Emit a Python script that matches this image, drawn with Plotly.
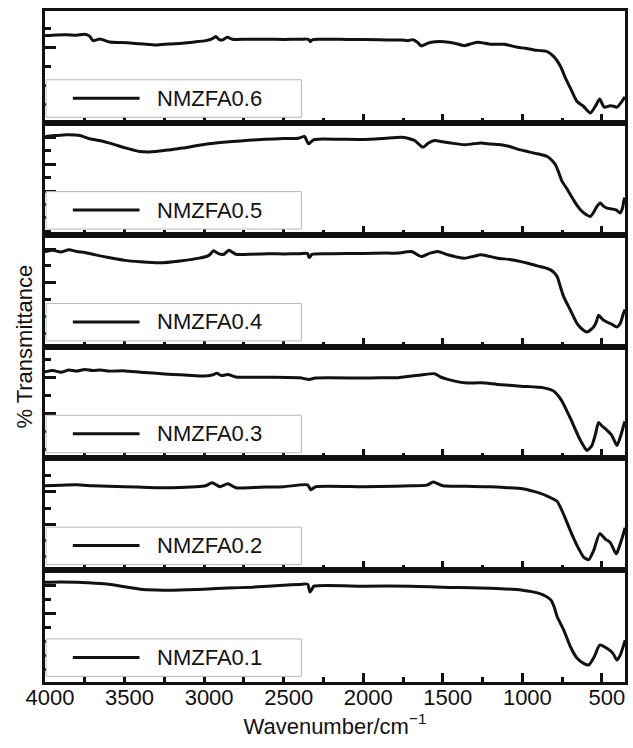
import plotly.graph_objects as go
from plotly.subplots import make_subplots

# Sample names, top panel to bottom panel
samples = ["NMZFA0.6", "NMZFA0.5", "NMZFA0.4", "NMZFA0.3", "NMZFA0.2", "NMZFA0.1"]

# (wavenumber cm^-1, % transmittance)
nmzfa06 = [(4000, 78.5), (3990, 78.0), (3930, 78.6), (3865, 78.8), (3800, 78.3), (3750, 79.2), (3720, 77.5),
           (3698, 73.5), (3656, 75.0), (3594, 72.3), (3520, 71.8), (3448, 71.2), (3380, 70.4), (3302, 69.6),
           (3220, 70.5), (3135, 71.2), (3060, 72.3), (2990, 73.5), (2950, 75.0), (2927, 77.1), (2905, 74.5),
           (2885, 74.1), (2854, 76.5), (2823, 74.7), (2720, 74.8), (2615, 74.7), (2500, 74.6), (2400, 74.7),
           (2344, 74.7), (2333, 72.6), (2320, 74.2), (2281, 74.7), (2100, 74.6), (1900, 74.4), (1760, 74.0),
           (1719, 73.5), (1688, 74.4), (1660, 72.0), (1635, 68.8), (1600, 70.8), (1573, 72.1), (1490, 72.6),
           (1420, 71.0), (1365, 69.0), (1320, 70.8), (1281, 72.1), (1198, 70.3), (1115, 70.3), (1031, 67.6),
           (980, 66.6), (927, 65.2), (880, 64.5), (844, 63.7), (802, 59.2), (760, 50.3), (729, 39.9),
           (698, 31.0), (656, 19.0), (615, 14.6), (573, 8.7), (542, 14.6), (514, 21.2), (486, 14.0),
           (448, 15.2), (420, 14.6), (406, 14.0), (375, 19.0), (361, 22.1), (355, 23.0)]

nmzfa05 = [(4000, 87.5), (3990, 87.8), (3930, 88.6), (3865, 89.3), (3781, 88.7), (3719, 85.7), (3650, 84.0),
           (3594, 81.9), (3540, 79.5), (3490, 77.4), (3440, 75.5), (3406, 74.4), (3350, 74.0), (3302, 74.4),
           (3220, 75.8), (3135, 77.4), (3050, 79.5), (2969, 81.3), (2900, 82.4), (2823, 83.3), (2720, 84.4),
           (2615, 85.4), (2500, 85.9), (2406, 86.3), (2369, 87.8), (2344, 81.3), (2313, 84.8), (2281, 85.4),
           (2150, 85.3), (2010, 85.1), (1880, 86.0), (1760, 87.2), (1720, 86.2), (1677, 84.2), (1625, 78.3),
           (1590, 82.0), (1552, 84.2), (1500, 83.0), (1448, 81.9), (1365, 80.4), (1310, 81.2), (1260, 81.9),
           (1200, 81.0), (1135, 80.4), (1080, 78.8), (1031, 76.5), (980, 74.8), (927, 72.9), (880, 71.5),
           (844, 69.9), (815, 66.5), (792, 62.5), (770, 55.0), (750, 47.6), (720, 41.0), (698, 35.7),
           (665, 28.0), (635, 22.3), (600, 18.0), (573, 16.3), (550, 20.5), (531, 25.3), (510, 28.3),
           (490, 25.5), (469, 23.8), (440, 23.0), (420, 22.5), (406, 21.7), (385, 19.4), (370, 24.0),
           (361, 31.3), (355, 33.0)]

nmzfa04 = [(4000, 84.7), (3950, 86.0), (3900, 84.5), (3850, 86.5), (3800, 85.0), (3750, 84.0), (3700, 82.5),
           (3600, 79.5), (3500, 77.0), (3400, 75.7), (3280, 74.8), (3150, 76.5), (3030, 79.0), (2970, 81.5),
           (2940, 85.6), (2910, 83.0), (2875, 82.5), (2845, 86.0), (2800, 82.5), (2700, 82.5), (2600, 83.0),
           (2500, 82.8), (2400, 83.0), (2350, 83.2), (2340, 79.5), (2320, 82.5), (2200, 83.0), (2000, 83.2),
           (1850, 83.5), (1781, 83.5), (1698, 85.0), (1635, 80.5), (1580, 83.5), (1531, 85.0), (1469, 82.0),
           (1365, 79.0), (1310, 80.5), (1260, 82.0), (1156, 79.0), (1080, 77.8), (1010, 75.9), (960, 74.2),
           (906, 72.1), (860, 70.5), (823, 68.5), (800, 66.0), (781, 62.4), (760, 53.0), (740, 44.4),
           (698, 32.4), (656, 20.5), (620, 15.0), (594, 12.9), (552, 17.4), (535, 22.0), (521, 27.9),
           (495, 24.0), (469, 21.9), (440, 20.0), (406, 17.4), (385, 20.5), (365, 29.5), (355, 33.0)]

nmzfa03 = [(4000, 77.3), (3950, 78.5), (3900, 77.0), (3850, 79.0), (3800, 78.0), (3750, 79.5), (3700, 78.5),
           (3650, 79.0), (3600, 78.0), (3500, 78.2), (3400, 77.0), (3300, 76.0), (3200, 75.0), (3100, 74.3),
           (3000, 73.6), (2950, 74.5), (2920, 76.0), (2890, 74.0), (2850, 75.0), (2800, 72.7), (2600, 72.5),
           (2400, 72.0), (2340, 70.5), (2300, 71.8), (2000, 71.8), (1900, 72.0), (1781, 72.1), (1698, 73.6),
           (1635, 74.5), (1552, 75.7), (1510, 72.5), (1469, 70.6), (1365, 67.5), (1260, 67.5), (1156, 66.1),
           (1010, 64.5), (865, 63.0), (802, 60.0), (775, 56.0), (750, 50.9), (698, 35.7), (646, 19.1),
           (615, 11.0), (594, 7.0), (563, 11.5), (540, 22.0), (521, 32.1), (500, 29.0), (479, 26.6),
           (438, 20.6), (406, 11.5), (381, 20.6), (360, 31.2), (355, 33.0)]

nmzfa02 = [(4000, 75.4), (3900, 76.0), (3800, 76.3), (3700, 75.5), (3600, 75.0), (3500, 74.6), (3350, 74.0),
           (3200, 73.7), (3050, 74.5), (2990, 75.5), (2950, 78.1), (2920, 76.0), (2900, 74.6), (2850, 77.2),
           (2800, 73.7), (2650, 74.2), (2500, 74.6), (2350, 76.3), (2330, 71.9), (2300, 74.6), (2000, 74.6),
           (1800, 75.0), (1700, 75.4), (1600, 76.0), (1560, 78.9), (1500, 75.4), (1350, 75.0), (1200, 74.6),
           (1100, 73.8), (1000, 72.8), (950, 71.3), (900, 69.3), (840, 66.0), (781, 61.4), (740, 49.7),
           (698, 35.1), (656, 21.9), (615, 11.7), (583, 9.4), (552, 17.5), (514, 32.7), (479, 27.8),
           (448, 24.8), (410, 14.6), (396, 19.0), (375, 27.8), (354, 38.0)]

nmzfa01 = [(4000, 89.3), (3900, 89.5), (3800, 89.3), (3700, 88.5), (3600, 87.5), (3500, 85.2), (3400, 83.0),
           (3300, 82.3), (3200, 82.1), (3100, 82.5), (3000, 83.0), (2850, 84.0), (2700, 84.8), (2500, 86.6),
           (2400, 87.2), (2350, 87.5), (2335, 80.4), (2320, 83.5), (2310, 85.7), (2000, 85.7), (1700, 85.7),
           (1500, 84.8), (1200, 83.9), (1000, 82.1), (900, 79.5), (850, 76.5), (820, 73.2), (800, 67.0),
           (781, 58.3), (740, 46.4), (698, 31.5), (656, 21.2), (615, 16.7), (583, 15.2), (548, 22.6),
           (514, 33.0), (469, 30.1), (431, 25.6), (406, 19.6), (385, 24.1), (354, 37.5)]

spectra = [nmzfa06, nmzfa05, nmzfa04, nmzfa03, nmzfa02, nmzfa01]

# y tick spacing per panel (major dtick, major tick0, minor dtick)
ytick_major = [34, 24, 30, 32, 29, 25]
ytick_start = [33, 15, 27, 8, 12, 11]
ytick_minor = [17, 12, 15, 16, 14.5, 12.5]

x_ticks = [4000, 3500, 3000, 2500, 2000, 1500, 1000, 500]

FONT = "Arial, Liberation Sans, sans-serif"
INK = "#111111"

fig = make_subplots(rows=6, cols=1, shared_xaxes=True, vertical_spacing=0)

for i, (name, data) in enumerate(zip(samples, spectra)):
    wn = [p[0] for p in data]
    tr = [p[1] for p in data]
    fig.add_trace(go.Scatter(x=wn, y=tr, mode="lines", name=name, showlegend=False,
                             line=dict(color=INK, width=3, shape="spline", smoothing=0.6)),
                  row=i + 1, col=1)
    last = (i == len(samples) - 1)
    fig.update_xaxes(row=i + 1, col=1, range=[4000, 355], autorange=False,
                     showline=True, linewidth=3, linecolor=INK, mirror=True,
                     ticks="inside", ticklen=9, tickwidth=2.5, tickcolor=INK,
                     tickvals=x_ticks, showticklabels=last,
                     ticklabelstandoff=-6, ticklabelshift=-5,
                     minor=dict(dtick=250, tick0=0, ticks="inside", ticklen=5, tickwidth=2.5, tickcolor=INK),
                     showgrid=False, zeroline=False,
                     tickfont=dict(family=FONT, size=22, color=INK))
    fig.update_yaxes(row=i + 1, col=1, range=[0, 100], autorange=False,
                     showline=True, linewidth=3, linecolor=INK, mirror=True,
                     ticks="inside", ticklen=11, tickwidth=2.5, tickcolor=INK,
                     tick0=ytick_start[i], dtick=ytick_major[i], showticklabels=False,
                     minor=dict(tick0=ytick_start[i], dtick=ytick_minor[i], ticks="inside",
                                ticklen=6, tickwidth=2.5, tickcolor=INK),
                     showgrid=False, zeroline=False)
    sfx = "" if i == 0 else str(i + 1)
    xr = f"x{sfx} domain"
    yr = f"y{sfx} domain"
    fig.add_shape(type="rect", xref=xr, yref=yr, x0=0.002, x1=0.442, y0=0.05, y1=0.385,
                  line=dict(color="#b8b8b8", width=1), fillcolor="white", layer="above")
    fig.add_shape(type="line", xref=xr, yref=yr, x0=0.048, x1=0.163, y0=0.22, y1=0.22,
                  line=dict(color=INK, width=3), layer="above")
    fig.add_annotation(xref=xr, yref=yr, x=0.19, y=0.22, text=name, showarrow=False,
                       xanchor="left", yanchor="middle",
                       font=dict(family=FONT, size=22, color=INK))

fig.update_xaxes(row=6, col=1, title=dict(text="Wavenumber/cm<sup>\u22121</sup>",
                                          font=dict(family=FONT, size=22, color=INK), standoff=0))

fig.add_annotation(xref="paper", yref="paper", x=-0.036, y=0.5, text="% Transmittance",
                   textangle=-90, showarrow=False, xanchor="center", yanchor="middle",
                   font=dict(family=FONT, size=22, color=INK))

fig.update_layout(width=633, height=748, margin=dict(l=45, r=5, t=11, b=66),
                  paper_bgcolor="white", plot_bgcolor="white",
                  font=dict(family=FONT, size=22, color=INK))

fig.write_html("out.html")
